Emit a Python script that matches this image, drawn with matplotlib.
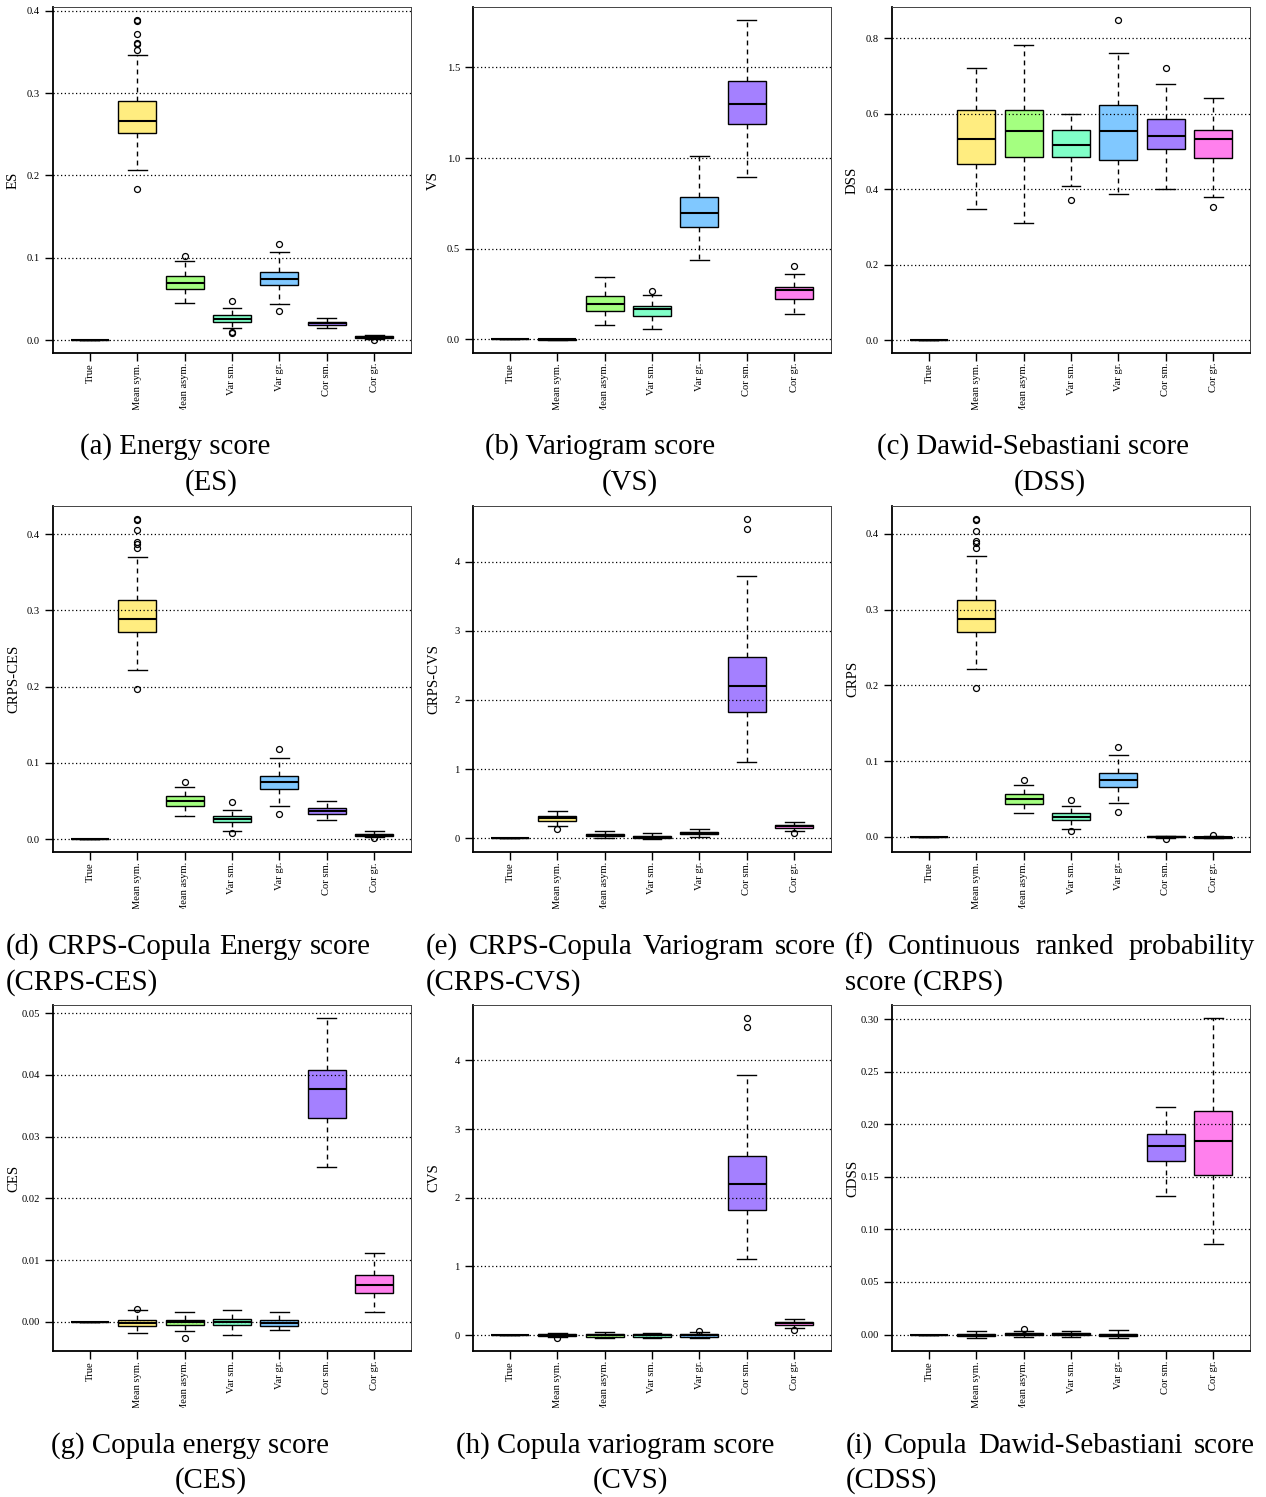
import numpy as np
import matplotlib
matplotlib.use("Agg")
import matplotlib.pyplot as plt
from matplotlib.colors import hsv_to_rgb
from matplotlib.transforms import Bbox, offset_copy

plt.rcParams['font.family'] = ['Liberation Serif', 'DejaVu Serif']

categories = ["True", "Mean sym.", "Mean asym.", "Var sm.", "Var gr.", "Cor sm.", "Cor gr."]

# five-number summaries per category: [whisker low, Q1, median, Q3, whisker high]
es_stats = [[0, 0, 0, 0, 0], [0.2063, 0.251, 0.2665, 0.290, 0.3466], [0.0453, 0.0627, 0.0696, 0.0777, 0.0963],
            [0.015, 0.0226, 0.0263, 0.0307, 0.0388], [0.0445, 0.0667, 0.0744, 0.0829, 0.1068],
            [0.0154, 0.019, 0.0206, 0.0226, 0.0275], [0.0015, 0.003, 0.004, 0.005, 0.0065]]
es_out = [[], [0.389, 0.388, 0.372, 0.361, 0.360, 0.352, 0.183], [0.1023], [0.0481, 0.0101, 0.0085],
          [0.1173, 0.0352], [], [0.0002]]

vs_stats = [[0, 0, 0, 0, 0], [-0.004, -0.002, 0, 0.002, 0.004], [0.081, 0.156, 0.197, 0.239, 0.346],
            [0.057, 0.131, 0.169, 0.182, 0.245], [0.44, 0.622, 0.699, 0.786, 1.012],
            [0.895, 1.191, 1.299, 1.426, 1.763], [0.138, 0.2245, 0.272, 0.291, 0.361]]
vs_out = [[], [], [], [0.267], [], [], [0.407]]

dss_stats = [[0, 0, 0, 0, 0], [0.3475, 0.4675, 0.5336, 0.611, 0.7224], [0.3113, 0.487, 0.5548, 0.610, 0.7824],
             [0.410, 0.485, 0.5186, 0.558, 0.6007], [0.3863, 0.479, 0.5548, 0.6245, 0.762],
             [0.3996, 0.508, 0.5424, 0.5857, 0.679], [0.3784, 0.4825, 0.5336, 0.5574, 0.6412]]
dss_out = [[], [], [], [0.3722], [0.8494], [0.7215], [0.3528]]

crpsces_stats = [[0, 0, 0, 0, 0], [0.2212, 0.2715, 0.2881, 0.3139, 0.3703], [0.0306, 0.0437, 0.0498, 0.056, 0.0678],
                 [0.0101, 0.0219, 0.0262, 0.0306, 0.0389], [0.0433, 0.0664, 0.0748, 0.0835, 0.1071],
                 [0.0249, 0.0332, 0.0372, 0.0411, 0.0507], [0.0026, 0.0044, 0.0057, 0.007, 0.0101]]
crpsces_out = [[], [0.4201, 0.4188, 0.4052, 0.3891, 0.3873, 0.3821, 0.1967], [0.0756], [0.0485, 0.0079],
               [0.1185, 0.0328], [], [0.0013]]

crpscvs_stats = [[0, 0, 0, 0, 0], [0.183, 0.25, 0.294, 0.327, 0.39], [0.0, 0.029, 0.048, 0.067, 0.101],
                 [-0.014, 0.01, 0.024, 0.0385, 0.072], [0.019, 0.058, 0.077, 0.091, 0.135],
                 [1.107, 1.819, 2.205, 2.619, 3.788], [0.101, 0.149, 0.173, 0.193, 0.231]]
crpscvs_out = [[], [0.135], [], [], [], [4.621, 4.477], [0.077]]

crps_stats = [[0, 0, 0, 0, 0], [0.2213, 0.2705, 0.2876, 0.3126, 0.371], [0.0312, 0.0435, 0.05, 0.0562, 0.068],
              [0.0105, 0.0224, 0.0268, 0.0312, 0.0404], [0.0443, 0.0659, 0.0751, 0.0839, 0.1076],
              [-0.0012, -0.0004, 0.0002, 0.0008, 0.0015], [-0.0018, -0.0008, 0.0, 0.0004, 0.0012]]
crps_out = [[], [0.4198, 0.418, 0.404, 0.390, 0.388, 0.3807, 0.1963], [0.0751], [0.0487, 0.0083],
            [0.1186, 0.0329], [-0.003], [0.0026]]

ces_stats = [[0, 0, 0, 0, 0], [-0.00173, -0.00065, -0.0001, 0.00032, 0.00189],
             [-0.00151, -0.00054, -0.00005, 0.00027, 0.00162], [-0.00205, -0.00054, 0.0, 0.00043, 0.00194],
             [-0.0013, -0.00065, -0.0001, 0.00032, 0.00156], [0.02513, 0.03306, 0.0377, 0.04078, 0.04925],
             [0.00156, 0.00469, 0.00604, 0.0076, 0.01111]]
ces_out = [[], [0.00205], [-0.00264], [], [], [], []]

cvs_stats = [[0, 0, 0, 0, 0], [-0.029, -0.0145, 0.005, 0.024, 0.034], [-0.0435, -0.019, 0.0, 0.024, 0.0435],
             [-0.039, -0.019, 0.0, 0.024, 0.039], [-0.0435, -0.019, 0.0, 0.019, 0.0435],
             [1.112, 1.819, 2.206, 2.612, 3.782], [0.102, 0.15, 0.174, 0.198, 0.232]]
cvs_out = [[], [-0.039], [], [], [0.063], [4.619, 4.484], [0.082]]

cdss_stats = [[0, 0, 0, 0, 0], [-0.0035, -0.0016, -0.0003, 0.0006, 0.0032], [-0.0028, -0.0009, 0.0003, 0.0016, 0.0032],
              [-0.0025, -0.0009, 0.0003, 0.0013, 0.0032], [-0.0035, -0.0016, -0.0003, 0.0009, 0.0041],
              [0.1313, 0.1655, 0.1797, 0.1908, 0.2165], [0.0858, 0.1513, 0.1842, 0.213, 0.3013]]
cdss_out = [[], [], [0.005], [], [], [], []]

ylabels = ["ES", "VS", "DSS", "CRPS-CES", "CRPS-CVS", "CRPS", "CES", "CVS", "CDSS"]
yticks = [[0.0, 0.1, 0.2, 0.3, 0.4], [0.0, 0.5, 1.0, 1.5], [0.0, 0.2, 0.4, 0.6, 0.8],
          [0.0, 0.1, 0.2, 0.3, 0.4], [0, 1, 2, 3, 4], [0.0, 0.1, 0.2, 0.3, 0.4],
          [0.00, 0.01, 0.02, 0.03, 0.04, 0.05], [0, 1, 2, 3, 4], [0.00, 0.05, 0.10, 0.15, 0.20, 0.25, 0.30]]
tick_fmts = ["%.1f", "%.1f", "%.1f", "%.1f", "%d", "%.1f", "%.2f", "%d", "%.2f"]

all_stats = [es_stats, vs_stats, dss_stats, crpsces_stats, crpscvs_stats, crps_stats, ces_stats, cvs_stats, cdss_stats]
all_out = [es_out, vs_out, dss_out, crpsces_out, crpscvs_out, crps_out, ces_out, cvs_out, cdss_out]

W, H = 1266, 1497
fig = plt.figure(figsize=(W / 100, H / 100), dpi=100)

col_left = [53, 473, 892]
row_top = [7, 506, 1005]
aw, ah = 358, 346

colors = [hsv_to_rgb((i / 7.0, 0.5, 1.0)) for i in range(7)]
positions = np.arange(1, 8)

for k in range(9):
    r, c = divmod(k, 3)
    ax = fig.add_axes([col_left[c] / W, 1 - (row_top[r] + ah) / H, aw / W, ah / H])
    stats = []
    for s, o, lab in zip(all_stats[k], all_out[k], categories):
        stats.append(dict(whislo=s[0], q1=s[1], med=s[2], q3=s[3], whishi=s[4], fliers=o, label=lab))
    bp = ax.bxp(stats, positions=positions, widths=0.8, capwidths=0.4, patch_artist=True,
                boxprops=dict(linewidth=1.0, edgecolor='black'),
                medianprops=dict(color='black', linewidth=1.5),
                whiskerprops=dict(color='black', linewidth=1.0, linestyle=(0, (3.5, 3))),
                capprops=dict(color='black', linewidth=1.0),
                flierprops=dict(marker='o', markersize=4.3, markerfacecolor='none',
                                markeredgecolor='black', markeredgewidth=0.9))
    for patch, col in zip(bp['boxes'], colors):
        patch.set_facecolor(col)
    # y range: data range extended by 4% on each side
    vals = [v for s in all_stats[k] for v in s] + [v for o in all_out[k] for v in o]
    lo, hi = min(vals), max(vals)
    pad = 0.04 * (hi - lo)
    ax.set_ylim(lo - pad, hi + pad)
    ax.set_xlim(0.5 - 0.28, 7.5 + 0.28)
    for t in yticks[k]:
        ax.axhline(t, color='black', linewidth=0.9, linestyle=(0, (1, 2)), zorder=3)
    ax.set_yticks(yticks[k])
    ax.set_yticklabels([tick_fmts[k] % t for t in yticks[k]])
    ax.set_xticks(positions)
    ax.tick_params(axis='x', length=6, width=1.0, labelbottom=False, color='black')
    ax.tick_params(axis='y', length=6, width=1.0, labelsize=7.6, pad=3.5, color='black')
    for sp in ['top', 'right']:
        ax.spines[sp].set_linewidth(0.7)
        ax.spines[sp].set_color('#444444')
    for sp in ['left', 'bottom']:
        ax.spines[sp].set_linewidth(1.3)
    ax.set_ylabel(ylabels[k], fontsize=10.6)
    ax.yaxis.set_label_coords(-33 / aw, 0.5)
    # rotated category labels, clipped at the bottom like the original
    bottom_px = row_top[r] + ah
    clip = Bbox.from_extents(0, H - (bottom_px + 57), W, H - bottom_px)
    tr = offset_copy(ax.get_xaxis_transform(), fig=fig, x=0, y=-10, units='dots')
    for p, lab in zip(positions, categories):
        t = fig.text(p, 0, lab, transform=tr, rotation=90, rotation_mode='anchor',
                     ha='right', va='center', fontsize=7.6)
        t.set_clip_on(True)
        t.set_clip_box(clip)

# captions
cap_fs = 20.8
def ftext(x, y, s, ha='left'):
    return fig.text(x / W, 1 - y / H, s, ha=ha, va='baseline', fontsize=cap_fs)

def justified(words, x0, x1, y):
    rend = fig.canvas.get_renderer()
    ts = [ftext(0, y, w) for w in words]
    widths = [t.get_window_extent(rend).width for t in ts]
    gap = (x1 - x0 - sum(widths)) / (len(words) - 1)
    x = x0
    for t, wd in zip(ts, widths):
        t.set_x(x / W)
        x += wd + gap

ftext(80, 454, "(a) Energy score")
ftext(211, 490, "(ES)", ha='center')
ftext(485, 454, "(b) Variogram score")
ftext(630, 490, "(VS)", ha='center')
ftext(877, 454, "(c) Dawid-Sebastiani score")
ftext(1050, 490, "(DSS)", ha='center')

justified(["(d)", "CRPS-Copula", "Energy", "score"], 6, 371, 954)
ftext(6, 990, "(CRPS-CES)")
justified(["(e)", "CRPS-Copula", "Variogram", "score"], 426, 836, 954)
ftext(426, 990, "(CRPS-CVS)")
justified(["(f)", "Continuous", "ranked", "probability"], 845, 1255, 954)
ftext(845, 990, "score (CRPS)")

ftext(51, 1453, "(g) Copula energy score")
ftext(211, 1488, "(CES)", ha='center')
ftext(456, 1453, "(h) Copula variogram score")
ftext(630, 1488, "(CVS)", ha='center')
justified(["(i)", "Copula", "Dawid-Sebastiani", "score"], 846, 1255, 1453)
ftext(846, 1488, "(CDSS)")

fig.savefig("out.png", dpi=100)
